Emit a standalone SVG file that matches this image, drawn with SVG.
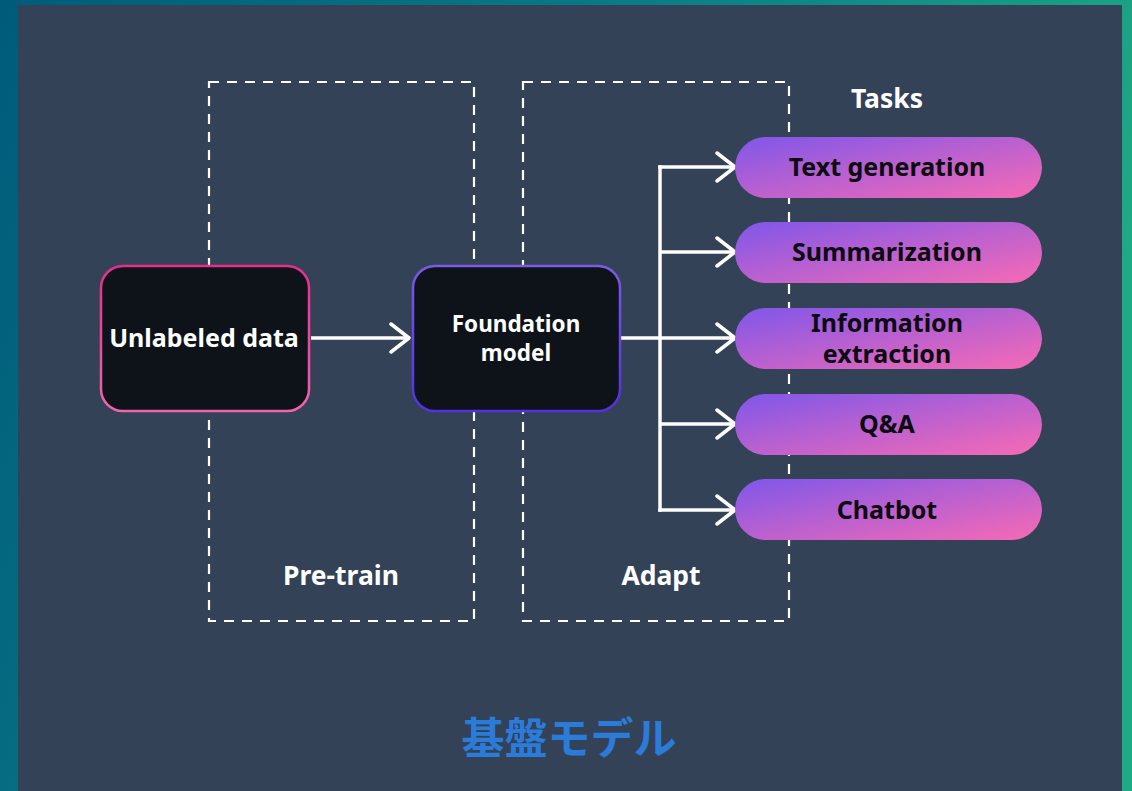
<svg xmlns="http://www.w3.org/2000/svg" width="1132" height="791" viewBox="0 0 1132 791">
  <defs>
    <linearGradient id="frame" x1="0" y1="0" x2="1" y2="0.3">
      <stop offset="0" stop-color="#005b7b"/>
      <stop offset="0.5" stop-color="#0a7a86"/>
      <stop offset="1" stop-color="#1eaa84"/>
    </linearGradient>
    <linearGradient id="pill" x1="0" y1="0" x2="1" y2="1">
      <stop offset="0" stop-color="#7f57ea"/>
      <stop offset="1" stop-color="#f76ab4"/>
    </linearGradient>
    <linearGradient id="pinkEdge" x1="0" y1="0" x2="0" y2="1">
      <stop offset="0" stop-color="#e62e8a"/>
      <stop offset="1" stop-color="#f264ac"/>
    </linearGradient>
    <linearGradient id="purpleEdge" x1="0" y1="0" x2="0" y2="1">
      <stop offset="0" stop-color="#7c5ae8"/>
      <stop offset="1" stop-color="#5430e0"/>
    </linearGradient>
    <marker id="chev" viewBox="0 0 24 32" refX="21" refY="16" markerWidth="24" markerHeight="32" markerUnits="userSpaceOnUse" orient="auto">
      <path d="M3,2 L21,16 L3,30" fill="none" stroke="#ffffff" stroke-width="3.5" stroke-linecap="round" stroke-linejoin="round"/>
    </marker>
    <style>
      .dash { fill: none; stroke: #ffffff; stroke-width: 2.2; stroke-dasharray: 10 8; }
      .wire { fill: none; stroke: #ffffff; stroke-width: 3.5; }
      .lbl { font-family: "Noto Sans", "Open Sans", sans-serif; font-weight: 700; text-anchor: middle; }
      .white { fill: #ffffff; }
      .task { fill: #0b0b10; font-size: 25px; }
      .box { fill: #0e1219; stroke-width: 2.5; }
    </style>
  </defs>

  <!-- frame and panel -->
  <rect x="0" y="0" width="1132" height="791" fill="url(#frame)"/>
  <rect x="18" y="5" width="1104" height="786" fill="#334257"/>

  <!-- stage regions -->
  <g id="pretrain-region">
    <rect class="dash" x="209" y="82" width="265" height="539"/>
    <text class="lbl white" x="341" y="585" font-size="26.5">Pre-train</text>
  </g>
  <g id="adapt-region">
    <rect class="dash" x="523" y="82" width="266" height="539"/>
    <text class="lbl white" x="661" y="585" font-size="26.5">Adapt</text>
  </g>
  <text class="lbl white" x="887" y="108" font-size="26.5">Tasks</text>

  <!-- connectors -->
  <g id="connectors">
    <path class="wire" d="M311,338 H409" marker-end="url(#chev)"/>
    <path class="wire" d="M620,338 H660"/>
    <path class="wire" d="M660,165.3 V511.7"/>
    <path class="wire" d="M658.3,167 H735" marker-end="url(#chev)"/>
    <path class="wire" d="M660,252 H735" marker-end="url(#chev)"/>
    <path class="wire" d="M660,338 H735" marker-end="url(#chev)"/>
    <path class="wire" d="M660,424 H735" marker-end="url(#chev)"/>
    <path class="wire" d="M658.3,510 H735" marker-end="url(#chev)"/>
  </g>

  <!-- main nodes -->
  <g id="unlabeled-data">
    <rect class="box" x="101" y="266" width="208" height="145" rx="22" stroke="url(#pinkEdge)"/>
    <text class="lbl white" x="204" y="347" font-size="25">Unlabeled data</text>
  </g>
  <g id="foundation-model">
    <rect class="box" x="413" y="266" width="207" height="145" rx="22" stroke="url(#purpleEdge)"/>
    <text class="lbl white" x="516" y="332" font-size="22.5">Foundation</text>
    <text class="lbl white" x="516" y="361" font-size="22.5">model</text>
  </g>

  <!-- task nodes -->
  <g id="task-text-generation">
    <rect x="735" y="137" width="307" height="61" rx="30.5" fill="url(#pill)"/>
    <text class="lbl task" x="887" y="176">Text generation</text>
  </g>
  <g id="task-summarization">
    <rect x="735" y="222" width="307" height="61" rx="30.5" fill="url(#pill)"/>
    <text class="lbl task" x="887" y="261">Summarization</text>
  </g>
  <g id="task-information-extraction">
    <rect x="735" y="308" width="307" height="61" rx="30.5" fill="url(#pill)"/>
    <text class="lbl task" x="887" y="332">Information</text>
    <text class="lbl task" x="887" y="363">extraction</text>
  </g>
  <g id="task-qa">
    <rect x="735" y="394" width="307" height="61" rx="30.5" fill="url(#pill)"/>
    <text class="lbl task" x="887" y="433">Q&amp;A</text>
  </g>
  <g id="task-chatbot">
    <rect x="735" y="479" width="307" height="61" rx="30.5" fill="url(#pill)"/>
    <text class="lbl task" x="887" y="519">Chatbot</text>
  </g>

  <!-- caption -->
  <text x="569" y="754" font-family="'Noto Sans CJK JP', sans-serif" font-weight="700" font-size="43" fill="#2b7bd9" text-anchor="middle">基盤モデル</text>
</svg>
